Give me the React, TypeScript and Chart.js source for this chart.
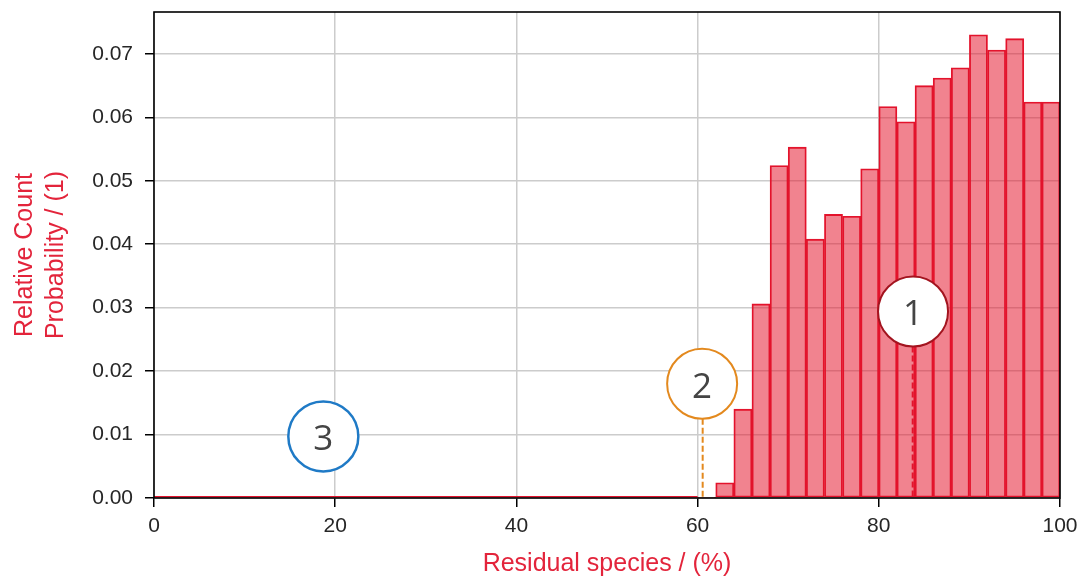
import React, { useEffect, useRef } from 'react';
import { Chart, registerables } from 'chart.js';

Chart.register(...registerables);

// Histogram bins (left edges, width 2 %)
const binWidth = 2;
const binStarts = [
  0, 2, 4, 6, 8, 10, 12, 14, 16, 18,
  20, 22, 24, 26, 28, 30, 32, 34, 36, 38,
  40, 42, 44, 46, 48, 50, 52, 54, 56, 58,
  60, 62, 64, 66, 68, 70, 72, 74, 76, 78,
  80, 82, 84, 86, 88, 90, 92, 94, 96, 98,
];
const relativeCount = [
  0, 0, 0, 0, 0, 0, 0, 0, 0, 0,
  0, 0, 0, 0, 0, 0, 0, 0, 0, 0,
  0, 0, 0, 0, 0, 0, 0, 0, 0, 0,
  0.0001, 0.0024, 0.0140, 0.0306, 0.0524, 0.0553, 0.0408, 0.0447, 0.0444, 0.0519,
  0.0617, 0.0593, 0.0650, 0.0662, 0.0678, 0.0730, 0.0706, 0.0724, 0.0624, 0.0624,
];

const xTicks = [0, 20, 40, 60, 80, 100];
const yTicks = [0, 0.01, 0.02, 0.03, 0.04, 0.05, 0.06, 0.07];
const xRange = [0, 100];
const yRange = [0, 0.0766];

// Numbered markers
const markerLabels = ['1', '2', '3'];
const markerX = [83.78, 60.5, 18.69];
const markerY = [0.0294, 0.0180, 0.0097];
const markerLineX = [83.74, 60.56, null];
const markerColors = ['#a3141f', '#e3891e', '#1f7ac6'];
const markerLineColors = ['#e3142d', '#e3891e', null];

const xTitle = 'Residual species / (%)';
const yTitle = ['Relative Count', 'Probability / (1)'];

const titleColor = '#e3243b';
const tickFont = '"Liberation Sans", Arial, sans-serif';

const overlayPlugin = {
  id: 'overlay',
  afterDraw(chart: any) {
    const ctx = chart.ctx as CanvasRenderingContext2D;
    const area = chart.chartArea;
    const xs = chart.scales.x;
    const ys = chart.scales.y;

    // zero-height bin outlines along baseline
    const firstNonZero = relativeCount.findIndex((v) => v > 0);
    if (firstNonZero > 0) {
      ctx.save();
      ctx.strokeStyle = '#e3142d';
      ctx.lineWidth = 1.5;
      ctx.beginPath();
      ctx.moveTo(xs.getPixelForValue(binStarts[0]), area.bottom - 1.2);
      ctx.lineTo(xs.getPixelForValue(binStarts[firstNonZero]), area.bottom - 1.2);
      ctx.stroke();
      ctx.restore();
    }

    // markers
    const r = 35;
    markerLabels.forEach((lab, i) => {
      const cx = xs.getPixelForValue(markerX[i]);
      const cy = ys.getPixelForValue(markerY[i]);
      const lx = markerLineX[i];
      const lc = markerLineColors[i];
      if (lx !== null && lc) {
        ctx.save();
        ctx.strokeStyle = lc;
        ctx.lineWidth = 2;
        ctx.setLineDash([6, 3]);
        ctx.beginPath();
        const px = xs.getPixelForValue(lx);
        ctx.moveTo(px, cy + r);
        ctx.lineTo(px, ys.getPixelForValue(0));
        ctx.stroke();
        ctx.restore();
      }
      ctx.save();
      ctx.beginPath();
      ctx.arc(cx, cy, r, 0, Math.PI * 2);
      ctx.fillStyle = '#ffffff';
      ctx.fill();
      ctx.lineWidth = i === 2 ? 2.5 : 2;
      ctx.strokeStyle = markerColors[i];
      ctx.stroke();
      ctx.fillStyle = '#444444';
      ctx.font = '35px "Open Sans", sans-serif';
      ctx.textAlign = 'center';
      ctx.textBaseline = 'alphabetic';
      ctx.fillText(lab, cx, cy + 14);
      ctx.restore();
    });

    // spines
    ctx.save();
    ctx.strokeStyle = '#000000';
    ctx.lineWidth = 1.6;
    ctx.strokeRect(area.left, area.top, area.right - area.left, area.bottom - area.top);
    ctx.restore();

    // axis titles
    ctx.save();
    ctx.fillStyle = titleColor;
    ctx.font = '25px ' + tickFont;
    ctx.textAlign = 'center';
    ctx.textBaseline = 'alphabetic';
    ctx.fillText(xTitle, (area.left + area.right) / 2, 571);
    const midY = (area.top + area.bottom) / 2;
    const baseX = [32, 63];
    yTitle.forEach((t, i) => {
      ctx.save();
      ctx.translate(baseX[i], midY);
      ctx.rotate(-Math.PI / 2);
      ctx.fillText(t, 0, 0);
      ctx.restore();
    });
    ctx.restore();
  },
};

export default function App() {
  const canvasRef = useRef<HTMLCanvasElement | null>(null);

  useEffect(() => {
    document.body.style.margin = '0';
    const canvas = canvasRef.current;
    if (!canvas) return;
    const data = binStarts.map((s, i) => ({ x: s + binWidth / 2, y: relativeCount[i] }));
    const chart = new Chart(canvas, {
      type: 'bar',
      data: {
        datasets: [
          {
            data,
            backgroundColor: 'rgba(228, 18, 40, 0.52)',
            borderColor: '#e3142d',
            borderWidth: 1.2,
            borderSkipped: false,
            barPercentage: 1,
            categoryPercentage: 1,
            grouped: false,
          } as any,
        ],
      },
      plugins: [overlayPlugin],
      options: {
        animation: false,
        responsive: false,
        devicePixelRatio: 1,
        layout: { padding: { top: 12, right: 20, left: 0, bottom: 0 } },
        plugins: { legend: { display: false }, tooltip: { enabled: false } },
        scales: {
          x: {
            type: 'linear',
            min: xRange[0],
            max: xRange[1],
            offset: false,
            afterFit: (s: any) => {
              s.height = 80;
              s.paddingLeft = 0;
              s.paddingRight = 0;
              s.paddingTop = 0;
              s.paddingBottom = 0;
            },
            afterBuildTicks: (s: any) => { s.ticks = xTicks.map((v) => ({ value: v })); },
            border: { display: false },
            grid: {
              color: '#cccccc',
              lineWidth: 1.5,
              offset: false,
              drawTicks: true,
              tickLength: 9,
              tickColor: '#000000',
              tickWidth: 1.5,
            },
            ticks: {
              padding: 7,
              color: '#262626',
              font: { family: tickFont, size: 21 },
              maxRotation: 0,
              autoSkip: false,
              callback: (v: any) => String(v),
            },
          },
          y: {
            type: 'linear',
            min: yRange[0],
            max: yRange[1],
            afterFit: (s: any) => {
              s.width = 154;
              s.paddingLeft = 0;
              s.paddingRight = 0;
              s.paddingTop = 0;
              s.paddingBottom = 0;
            },
            afterBuildTicks: (s: any) => { s.ticks = yTicks.map((v) => ({ value: v })); },
            border: { display: false },
            grid: {
              color: '#cccccc',
              lineWidth: 1.5,
              drawTicks: true,
              tickLength: 9,
              tickColor: '#000000',
              tickWidth: 1.5,
            },
            ticks: {
              padding: 12,
              color: '#262626',
              font: { family: tickFont, size: 21 },
              autoSkip: false,
              callback: (v: any) => Number(v).toFixed(2),
            },
          },
        },
      } as any,
    });
    return () => chart.destroy();
  }, []);

  return (
    <div style={{ position: 'absolute', left: 0, top: 0, width: 1080, height: 578 }}>
      <canvas ref={canvasRef} width={1080} height={578} />
    </div>
  );
}
